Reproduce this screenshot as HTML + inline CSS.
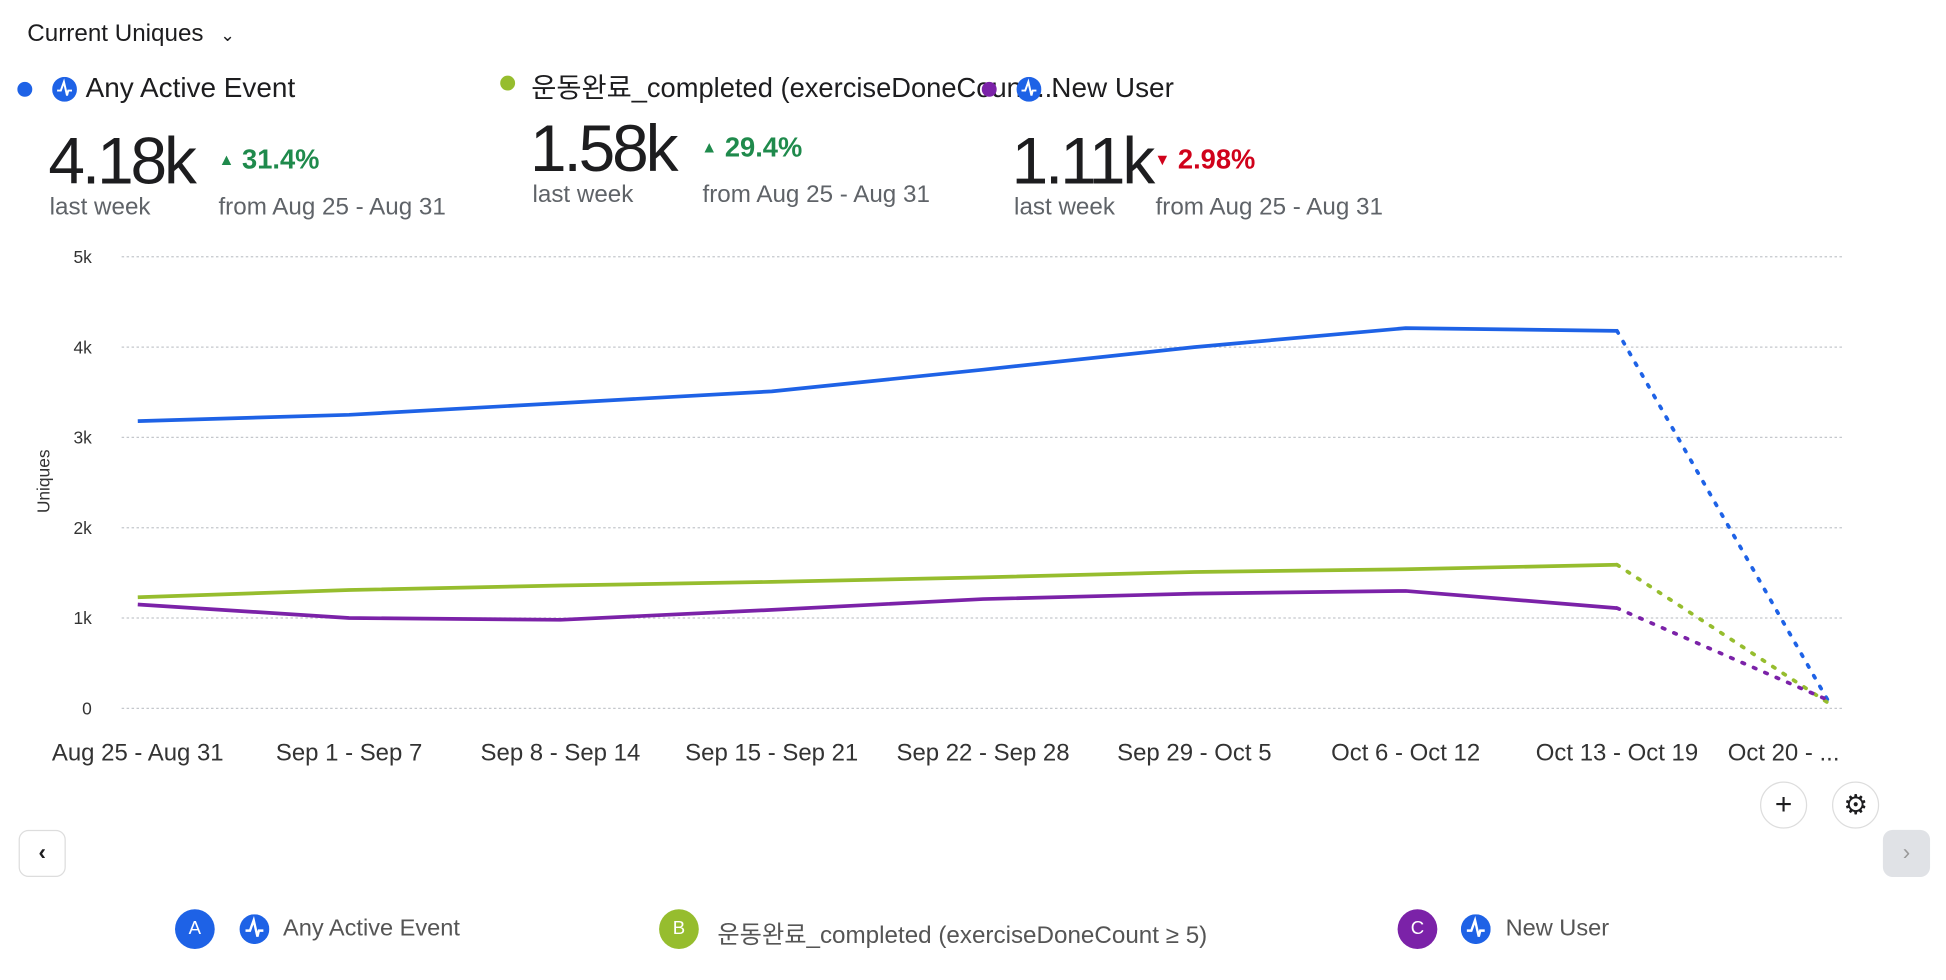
<!DOCTYPE html>
<html><head><meta charset="utf-8">
<style>
html,body{margin:0;padding:0;background:#fff;width:1946px;height:980px;overflow:hidden}
#wrap{position:absolute;left:0;top:0;width:1568px;height:790px;transform:scale(1.2412,1.2405);transform-origin:0 0;font-family:"Liberation Sans","Noto Sans CJK KR",sans-serif;color:#1d1d1f}
.abs{position:absolute;white-space:nowrap}
.dot{position:absolute;width:12px;height:12px;border-radius:50%}
.big{font-size:53px;font-weight:normal;letter-spacing:-2.5px;line-height:1}
.sub{font-size:19.5px;color:#5f6368}
.pct{font-size:22px;font-weight:600}
.ic{position:absolute;width:20px;height:20px}
</style></head><body>
<div id="wrap">
<div class="abs" style="left:22px;top:16px;font-size:19.5px">Current Uniques <span style="display:inline-block;margin-left:8px;font-size:14px">&#8964;</span></div>

<div class="dot" style="left:14px;top:66px;background:#1e62e6"></div>
<svg class="ic" style="left:42px;top:62px" viewBox="0 0 20 20"><circle cx="10" cy="10" r="10" fill="#1e62e6"/><path d="M4 11 L7 11 L9.5 4 L12 15 L13 11 L16 11" stroke="#fff" stroke-width="1.6" fill="none"/></svg>
<div class="abs" style="left:69px;top:58px;font-size:22.5px">Any Active Event</div>

<div class="dot" style="left:403px;top:61px;background:#96bd2e"></div>
<div class="abs" style="left:428px;top:53px;font-size:22px">운동완료_completed (exerciseDoneCount ...</div>

<div class="dot" style="left:791px;top:66px;background:#7b22a8"></div>
<svg class="ic" style="left:819px;top:62px" viewBox="0 0 20 20"><circle cx="10" cy="10" r="10" fill="#1e62e6"/><path d="M4 11 L7 11 L9.5 4 L12 15 L13 11 L16 11" stroke="#fff" stroke-width="1.6" fill="none"/></svg>
<div class="abs" style="left:847px;top:58px;font-size:22.5px">New User</div>

<div class="abs big" style="left:39px;top:104px">4.18k</div>
<div class="abs sub" style="left:40px;top:156px">last week</div>
<div class="abs pct" style="left:176px;top:116px;color:#1f8a4c"><span style="font-size:13px;vertical-align:3px">&#9650;</span> 31.4%</div>
<div class="abs sub" style="left:176px;top:156px">from Aug 25 - Aug 31</div>

<div class="abs big" style="left:427px;top:94px">1.58k</div>
<div class="abs sub" style="left:429px;top:146px">last week</div>
<div class="abs pct" style="left:565px;top:106px;color:#1f8a4c"><span style="font-size:13px;vertical-align:3px">&#9650;</span> 29.4%</div>
<div class="abs sub" style="left:566px;top:146px">from Aug 25 - Aug 31</div>

<div class="abs big" style="left:815px;top:104px">1.11k</div>
<div class="abs sub" style="left:817px;top:156px">last week</div>
<div class="abs pct" style="left:930px;top:116px;color:#d0021b"><span style="font-size:13px;vertical-align:3px">&#9660;</span> 2.98%</div>
<div class="abs sub" style="left:931px;top:156px">from Aug 25 - Aug 31</div>

<svg id="chart" style="position:absolute;left:0;top:190px" width="1568" height="440"></svg>

<div class="abs" style="left:1418px;top:630px;width:36px;height:36px;border:1px solid #ddd;border-radius:50%;text-align:center;line-height:36px;font-size:24px">+</div>
<div class="abs" style="left:1476px;top:630px;width:36px;height:36px;border:1px solid #ddd;border-radius:50%;text-align:center;line-height:36px;font-size:22px">&#9881;</div>
<div class="abs" style="left:15px;top:669px;width:36px;height:36px;border:1px solid #ddd;border-radius:8px;text-align:center;line-height:34px;font-size:18px;font-weight:bold">&#8249;</div>
<div class="abs" style="left:1517px;top:669px;width:38px;height:38px;background:#e0e2e6;border-radius:8px;text-align:center;line-height:36px;font-size:18px;color:#999">&#8250;</div>

<div class="abs" style="left:141px;top:733px;height:32px">
 <span style="position:absolute;left:0;top:0;width:32px;height:32px;border-radius:50%;background:#1e62e6;color:#fff;text-align:center;line-height:32px;font-size:15px">A</span>
 <svg style="position:absolute;left:52px;top:4px" width="24" height="24" viewBox="0 0 20 20"><circle cx="10" cy="10" r="10" fill="#1e62e6"/><path d="M4 11 L7 11 L9.5 4 L12 15 L13 11 L16 11" stroke="#fff" stroke-width="1.6" fill="none"/></svg>
 <span style="position:absolute;left:87px;top:5px;font-size:19px;color:#555">Any Active Event</span></div>
<div class="abs" style="left:531px;top:733px;height:32px">
 <span style="position:absolute;left:0;top:0;width:32px;height:32px;border-radius:50%;background:#96bd2e;color:#fff;text-align:center;line-height:32px;font-size:15px">B</span>
 <span style="position:absolute;left:47px;top:4px;font-size:19.5px;color:#555">운동완료_completed (exerciseDoneCount ≥ 5)</span></div>
<div class="abs" style="left:1126px;top:733px;height:32px">
 <span style="position:absolute;left:0;top:0;width:32px;height:32px;border-radius:50%;background:#7b22a8;color:#fff;text-align:center;line-height:32px;font-size:15px">C</span>
 <svg style="position:absolute;left:51px;top:4px" width="24" height="24" viewBox="0 0 20 20"><circle cx="10" cy="10" r="10" fill="#1e62e6"/><path d="M4 11 L7 11 L9.5 4 L12 15 L13 11 L16 11" stroke="#fff" stroke-width="1.6" fill="none"/></svg>
 <span style="position:absolute;left:87px;top:5px;font-size:19px;color:#555">New User</span></div>
</div>
<script>
const categories=["Aug 25 - Aug 31","Sep 1 - Sep 7","Sep 8 - Sep 14","Sep 15 - Sep 21","Sep 22 - Sep 28","Sep 29 - Oct 5","Oct 6 - Oct 12","Oct 13 - Oct 19","Oct 20 - ..."];
const seriesA=[3180,3250,3380,3510,3750,4000,4210,4180,80];
const seriesB=[1230,1310,1360,1400,1450,1510,1540,1590,60];
const seriesC=[1150,1000,980,1090,1210,1270,1300,1110,90];
const yTicks=[0,1000,2000,3000,4000,5000];
const yTickLabels=["0","1k","2k","3k","4k","5k"];
const NS="http://www.w3.org/2000/svg";
const svg=document.getElementById('chart');
const OFF=190;
function x(i){return 111+i*170.25;}
function y(v){return 571-OFF-v*0.0728;}
function mk(t,a){const e=document.createElementNS(NS,t);for(const k in a)e.setAttribute(k,a[k]);svg.appendChild(e);return e;}
yTicks.forEach((v,i)=>{
 const g=mk('line',{x1:98,x2:1486,y1:y(v),y2:y(v),stroke:'#c4c7cc','stroke-width':1,'stroke-dasharray':'2,2'});
 
 
 const t=mk('text',{x:74,y:y(v)+5,'text-anchor':'end','font-size':14,fill:'#333','font-family':'Liberation Sans, sans-serif'});
 t.textContent=yTickLabels[i];
 
 
});
categories.forEach((c,i)=>{
 const t=mk('text',{x:i==8?1437:x(i),y:607-OFF+6,'text-anchor':'middle','font-size':19.3,fill:'#333','font-family':'Liberation Sans, sans-serif'});
 t.textContent=c;
 
 
});
const yt=mk('text',{x:0,y:0,'font-size':14,fill:'#333','text-anchor':'middle',transform:'translate(40,'+(388-OFF)+') rotate(-90)','font-family':'Liberation Sans, sans-serif'});
yt.textContent='Uniques';


[[seriesA,'#1e62e6','a'],[seriesB,'#96bd2e','b'],[seriesC,'#7b22a8','c']].forEach(([d,col,n])=>{
 const n1=d.length-1;
 const pts=d.slice(0,n1).map((v,i)=>x(i)+','+y(v)).join(' ');
 const p=mk('polyline',{points:pts,fill:'none',stroke:col,'stroke-width':3,'stroke-linejoin':'round'});
 
 
 const q=mk('line',{x1:x(n1-1),y1:y(d[n1-1]),x2:x(n1),y2:y(d[n1]),stroke:col,'stroke-width':3,'stroke-dasharray':'2,8','stroke-linecap':'round'});
 
 
});
</script>
</body></html>
